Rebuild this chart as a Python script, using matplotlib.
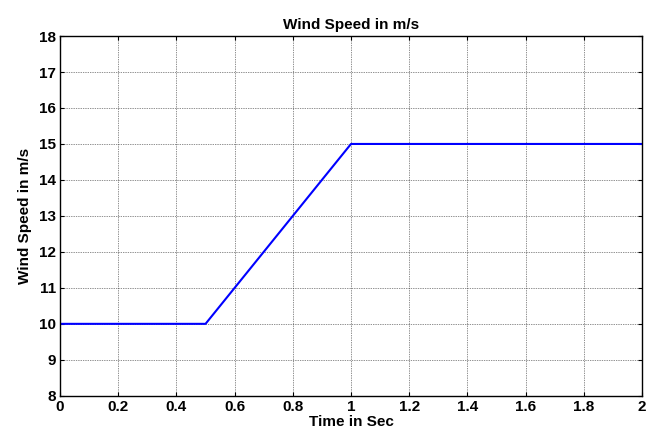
import matplotlib
matplotlib.use("Agg")
import matplotlib.pyplot as plt

# Wind speed profile (ramp from 10 to 15 m/s)
time_sec = [0.0, 0.5, 1.0, 2.0]
wind_speed = [10, 10, 15, 15]
x_ticks = [0, 0.2, 0.4, 0.6, 0.8, 1, 1.2, 1.4, 1.6, 1.8, 2]
y_ticks = [8, 9, 10, 11, 12, 13, 14, 15, 16, 17, 18]

plt.rcParams["font.family"] = ["Liberation Sans", "DejaVu Sans"]
plt.rcParams["font.weight"] = "bold"

fig = plt.figure(figsize=(6.53, 4.34), dpi=100)
ax = fig.add_axes([0.092, 0.088, 0.891, 0.829])

ax.plot(time_sec, wind_speed, color="blue", linewidth=1.5)

ax.set_xlim(0, 2)
ax.set_ylim(8, 18)
ax.set_xticks(x_ticks)
ax.set_xticklabels([f"{t:g}" for t in x_ticks])
ax.set_yticks(y_ticks)

ax.grid(True, color="#222222", linestyle=(0, (1, 1.5)), linewidth=0.5)
ax.tick_params(direction="in", top=True, right=True, length=3, width=0.8,
               labelsize=11, pad=3)
for s in ax.spines.values():
    s.set_linewidth(1.0)

ax.set_title("Wind Speed in m/s", fontsize=11, fontweight="bold", pad=5)
ax.set_xlabel("Time in Sec", fontsize=11, fontweight="bold", labelpad=1)
ax.set_ylabel("Wind Speed in m/s", fontsize=11, fontweight="bold", labelpad=5)

fig.savefig("out.png", dpi=100)
